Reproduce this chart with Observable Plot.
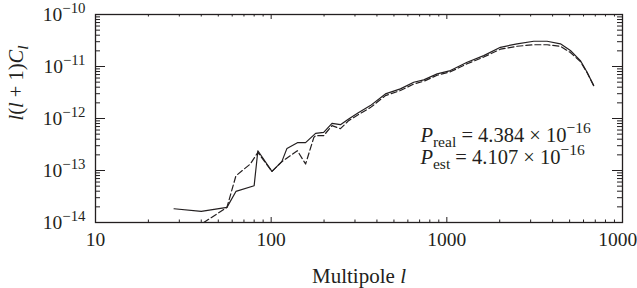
<!DOCTYPE html>
<html><head><meta charset="utf-8">
<script src="https://cdn.jsdelivr.net/npm/d3@7"></script>
<script src="https://cdn.jsdelivr.net/npm/@observablehq/plot@0.6"></script>
<style>
html,body{margin:0;padding:0;background:#fff;}
#chart{width:637px;height:288px;}
</style></head><body><div id="chart"></div>
<script>
// ---- data ----
const lReal = [28, 40, 56, 63, 80, 84, 101, 115, 123, 141, 157, 179, 199, 222, 248, 276, 315, 367, 447, 544, 648, 739, 881, 1048, 1305, 1622, 2018, 2512, 3124, 3722, 4432, 5051, 5756, 6288, 6855];
const cReal = [1.84e-14, 1.63e-14, 1.95e-14, 3.96e-14, 5.1e-14, 2.4e-13, 9.6e-14, 1.48e-13, 2.66e-13, 3.43e-13, 3.43e-13, 5.18e-13, 5.41e-13, 8.07e-13, 7.62e-13, 9.8e-13, 1.31e-12, 1.77e-12, 2.97e-12, 3.71e-12, 4.97e-12, 5.53e-12, 7.21e-12, 8.35e-12, 1.206e-11, 1.62e-11, 2.34e-11, 2.73e-11, 3.06e-11, 3.06e-11, 2.73e-11, 2.03e-11, 1.30e-11, 7.74e-12, 4.29e-12];
const lEst = [28, 40, 56, 63, 76, 84, 101, 115, 141, 157, 175, 179, 199, 222, 248, 276, 315, 367, 447, 544, 648, 739, 881, 1048, 1305, 1622, 2018, 2512, 3124, 3722, 4432, 5051, 5756, 6288, 6855];
const cEst = [4e-15, 9.3e-15, 1.95e-14, 7.9e-14, 1.33e-13, 2.23e-13, 9.6e-14, 1.48e-13, 2.4e-13, 1.33e-13, 4.34e-13, 4.68e-13, 4.68e-13, 7.29e-13, 6.38e-13, 9.1e-13, 1.2e-12, 1.62e-12, 2.75e-12, 3.45e-12, 4.6e-12, 5.2e-12, 6.8e-12, 7.9e-12, 1.13e-11, 1.52e-11, 2.15e-11, 2.45e-11, 2.62e-11, 2.62e-11, 2.45e-11, 1.85e-11, 1.25e-11, 7.6e-12, 4.29e-12];

const xTicks = [10, 100, 1000, 10000];
const xTickLabels = ["10", "100", "1000", "10000"];
const yTicks = [1e-14, 1e-13, 1e-12, 1e-11, 1e-10];
const yTickLabels = ["10^{\u221214}", "10^{\u221213}", "10^{\u221212}", "10^{\u221211}", "10^{\u221210}"];
const xTitle = "Multipole *l*";
const yTitle = "*l*(*l* + 1)*C*_{*l*}";
const annoText = ["*P*_{real} = 4.384 \u00d7 10^{\u221216}", "*P*_{est} = 4.107 \u00d7 10^{\u221216}"];
const annoL = [707, 707];
const annoC = [3.58e-13, 1.35e-13];

// ---- layout ----
const W = 637, H = 288, mL = 95, mR = 15, mT = 14, mB = 66;
const plotW = W - mL - mR, plotH = H - mT - mB;
const ink = "#231f20";

const xMinor = [], yMinor = [];
for (const d of xTicks.slice(0, -1)) for (let k = 2; k < 10; k++) xMinor.push(d * k);
for (const d of yTicks.slice(0, -1)) for (let k = 2; k < 10; k++) yMinor.push(d * k);

const real = lReal.map((l, i) => ({l, c: cReal[i]}));
const est = lEst.map((l, i) => ({l, c: cEst[i]}));

const chart = Plot.plot({
  width: W, height: H,
  marginLeft: mL, marginRight: mR, marginTop: mT, marginBottom: mB,
  style: {fontFamily: "'Liberation Serif', 'Times New Roman', serif", color: ink, background: "#fff"},
  x: {type: "log", domain: [10, 10000], axis: null},
  y: {type: "log", domain: [1e-14, 1e-10], axis: null},
  marks: [
    Plot.line(real, {x: "l", y: "c", stroke: ink, strokeWidth: 1.2, clip: true}),
    Plot.line(est, {x: "l", y: "c", stroke: ink, strokeWidth: 1.2, strokeDasharray: "6,3", clip: true}),
    Plot.frame({stroke: ink, strokeWidth: 1.3}),
    Plot.tickX(xTicks, {x: d => d, insetTop: plotH - 5, stroke: ink}),
    Plot.tickX(xMinor, {x: d => d, insetTop: plotH - 2.5, stroke: ink}),
    Plot.tickX(xTicks, {x: d => d, insetBottom: plotH - 5, stroke: ink}),
    Plot.tickX(xMinor, {x: d => d, insetBottom: plotH - 2.5, stroke: ink}),
    Plot.tickY(yTicks, {y: d => d, insetRight: plotW - 10, stroke: ink}),
    Plot.tickY(yMinor, {y: d => d, insetRight: plotW - 5, stroke: ink}),
    Plot.tickY(yTicks, {y: d => d, insetLeft: plotW - 10, stroke: ink}),
    Plot.tickY(yMinor, {y: d => d, insetLeft: plotW - 5, stroke: ink}),
    Plot.text(xTicks, {x: d => d, text: (d, i) => xTickLabels[i], frameAnchor: "bottom", lineAnchor: "top", dy: 10, fontSize: 19.5, fill: ink}),
    Plot.text(yTicks, {y: d => d, text: (d, i) => yTickLabels[i], frameAnchor: "left", textAnchor: "end", dx: -10, fontSize: 19.5, fill: ink}),
    Plot.text([xTitle], {text: d => d, frameAnchor: "bottom", lineAnchor: "bottom", dy: 60, fontSize: 21, fill: ink}),
    Plot.text([yTitle], {text: d => d, frameAnchor: "left", rotate: -90, dx: -79, dy: 2, fontSize: 20.5, fill: ink}),
    Plot.text(annoText, {x: (d, i) => annoL[i], y: (d, i) => annoC[i], text: d => d, textAnchor: "start", lineAnchor: "bottom", fontSize: 20.5, fill: ink})
  ]
});
document.getElementById("chart").appendChild(chart);

// ---- rich text (sub/superscripts, italics) ----
function segments(str) {
  const out = []; let mode = "n", italic = false, buf = "";
  const flush = () => { if (buf) { out.push({t: buf, mode, italic}); buf = ""; } };
  for (let i = 0; i < str.length; i++) {
    const ch = str[i];
    if ((ch === "^" || ch === "_") && str[i + 1] === "{") { flush(); mode = ch === "^" ? "sup" : "sub"; i++; continue; }
    if (ch === "}" && mode !== "n") { flush(); mode = "n"; continue; }
    if (ch === "*") { flush(); italic = !italic; continue; }
    buf += ch;
  }
  flush();
  return out;
}
d3.select(chart).selectAll("text").each(function () {
  const s = this.textContent;
  if (!/[\^_*]/.test(s)) return;
  const fs = parseFloat(getComputedStyle(this).fontSize) || 18;
  const el = d3.select(this);
  el.text(null);
  let cur = 0;
  for (const seg of segments(s)) {
    const target = seg.mode === "sup" ? -0.42 * fs : seg.mode === "sub" ? 0.25 * fs : 0;
    el.append("tspan")
      .attr("dy", target - cur)
      .attr("font-size", seg.mode === "n" ? fs : fs * 0.76)
      .attr("font-style", seg.italic ? "italic" : "normal")
      .text(seg.t);
    cur = target;
  }
});
</script>
</body></html>
